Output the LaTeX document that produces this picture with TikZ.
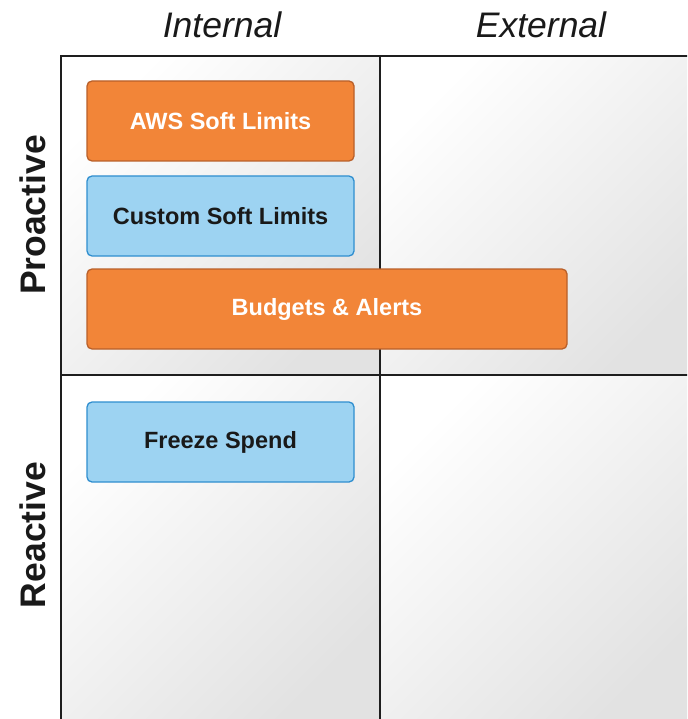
\documentclass[tikz,border=0pt]{standalone}
\usepackage{fontspec}
\setmainfont{Liberation Sans}
\definecolor{awsorange}{HTML}{F28538}
\definecolor{awsorangeedge}{HTML}{B9602A}
\definecolor{lightblue}{HTML}{9DD3F2}
\definecolor{lightblueedge}{HTML}{2F8ECF}
\definecolor{gridline}{HTML}{1E1E1E}
\definecolor{cellend}{HTML}{E2E2E2}
\begin{document}
\begin{tikzpicture}[x=1pt,y=-1pt,
  cell/.style={shading=axis, top color=white, bottom color=cellend, shading angle=45},
  card/.style={rounded corners=5pt, line width=1.3pt, minimum height=80pt, inner sep=0pt,
    font=\bfseries\fontsize{23.5}{28}\selectfont},
  orangecard/.style={card, fill=awsorange, draw=awsorangeedge, text=white},
  bluecard/.style={card, fill=lightblue, draw=lightblueedge, text=black!90},
  axislabel/.style={font=\itshape\fontsize{35.5}{42}\selectfont, text=black!90},
  rowlabel/.style={font=\bfseries\fontsize{35.5}{42}\selectfont, rotate=90, text=black!90},
  gridrule/.style={draw=gridline, line width=1.6pt}]
\useasboundingbox (0,0) rectangle (687,719);
\begin{scope}
  \clip (0,0) rectangle (687,719);
  % quadrant backgrounds: light at the upper left, grey towards the lower right
  \shade[cell] (61,56) rectangle (380,375);
  \shade[cell] (380,56) rectangle (699,375);
  \shade[cell] (61,375) rectangle (380,719);
  \shade[cell] (380,375) rectangle (699,719);
  % grid rules
  \coordinate (tl) at (61,56);
  \coordinate (tm) at (380,56);
  \coordinate (tr) at (690,56);
  \coordinate (ml) at (61,375);
  \coordinate (mr) at (690,375);
  \coordinate (bl) at (61,722);
  \coordinate (bm) at (380,722);
  \draw[gridrule] (tr) -- (tl) -- (bl);
  \draw[gridrule] (tm) -- (bm);
  \draw[gridrule] (ml) -- (mr);
\end{scope}
% column and row headings
\node[axislabel] (internal) at (222,25) {Internal};
\node[axislabel] (external) at (541,25) {External};
\node[rowlabel] (proactive) at (33,215) {Proactive};
\node[rowlabel] (reactive) at (33,535) {Reactive};
% cards
\node[orangecard, minimum width=267pt] (aws) at (220.5,121) {AWS Soft Limits};
\node[bluecard, minimum width=267pt] (custom) at (220.5,216) {Custom Soft Limits};
\node[orangecard, minimum width=480pt] (budgets) at (327,309) {Budgets \& Alerts};
\node[bluecard, minimum width=267pt] (freeze) at (220.5,442) {Freeze Spend};
\end{tikzpicture}
\end{document}
